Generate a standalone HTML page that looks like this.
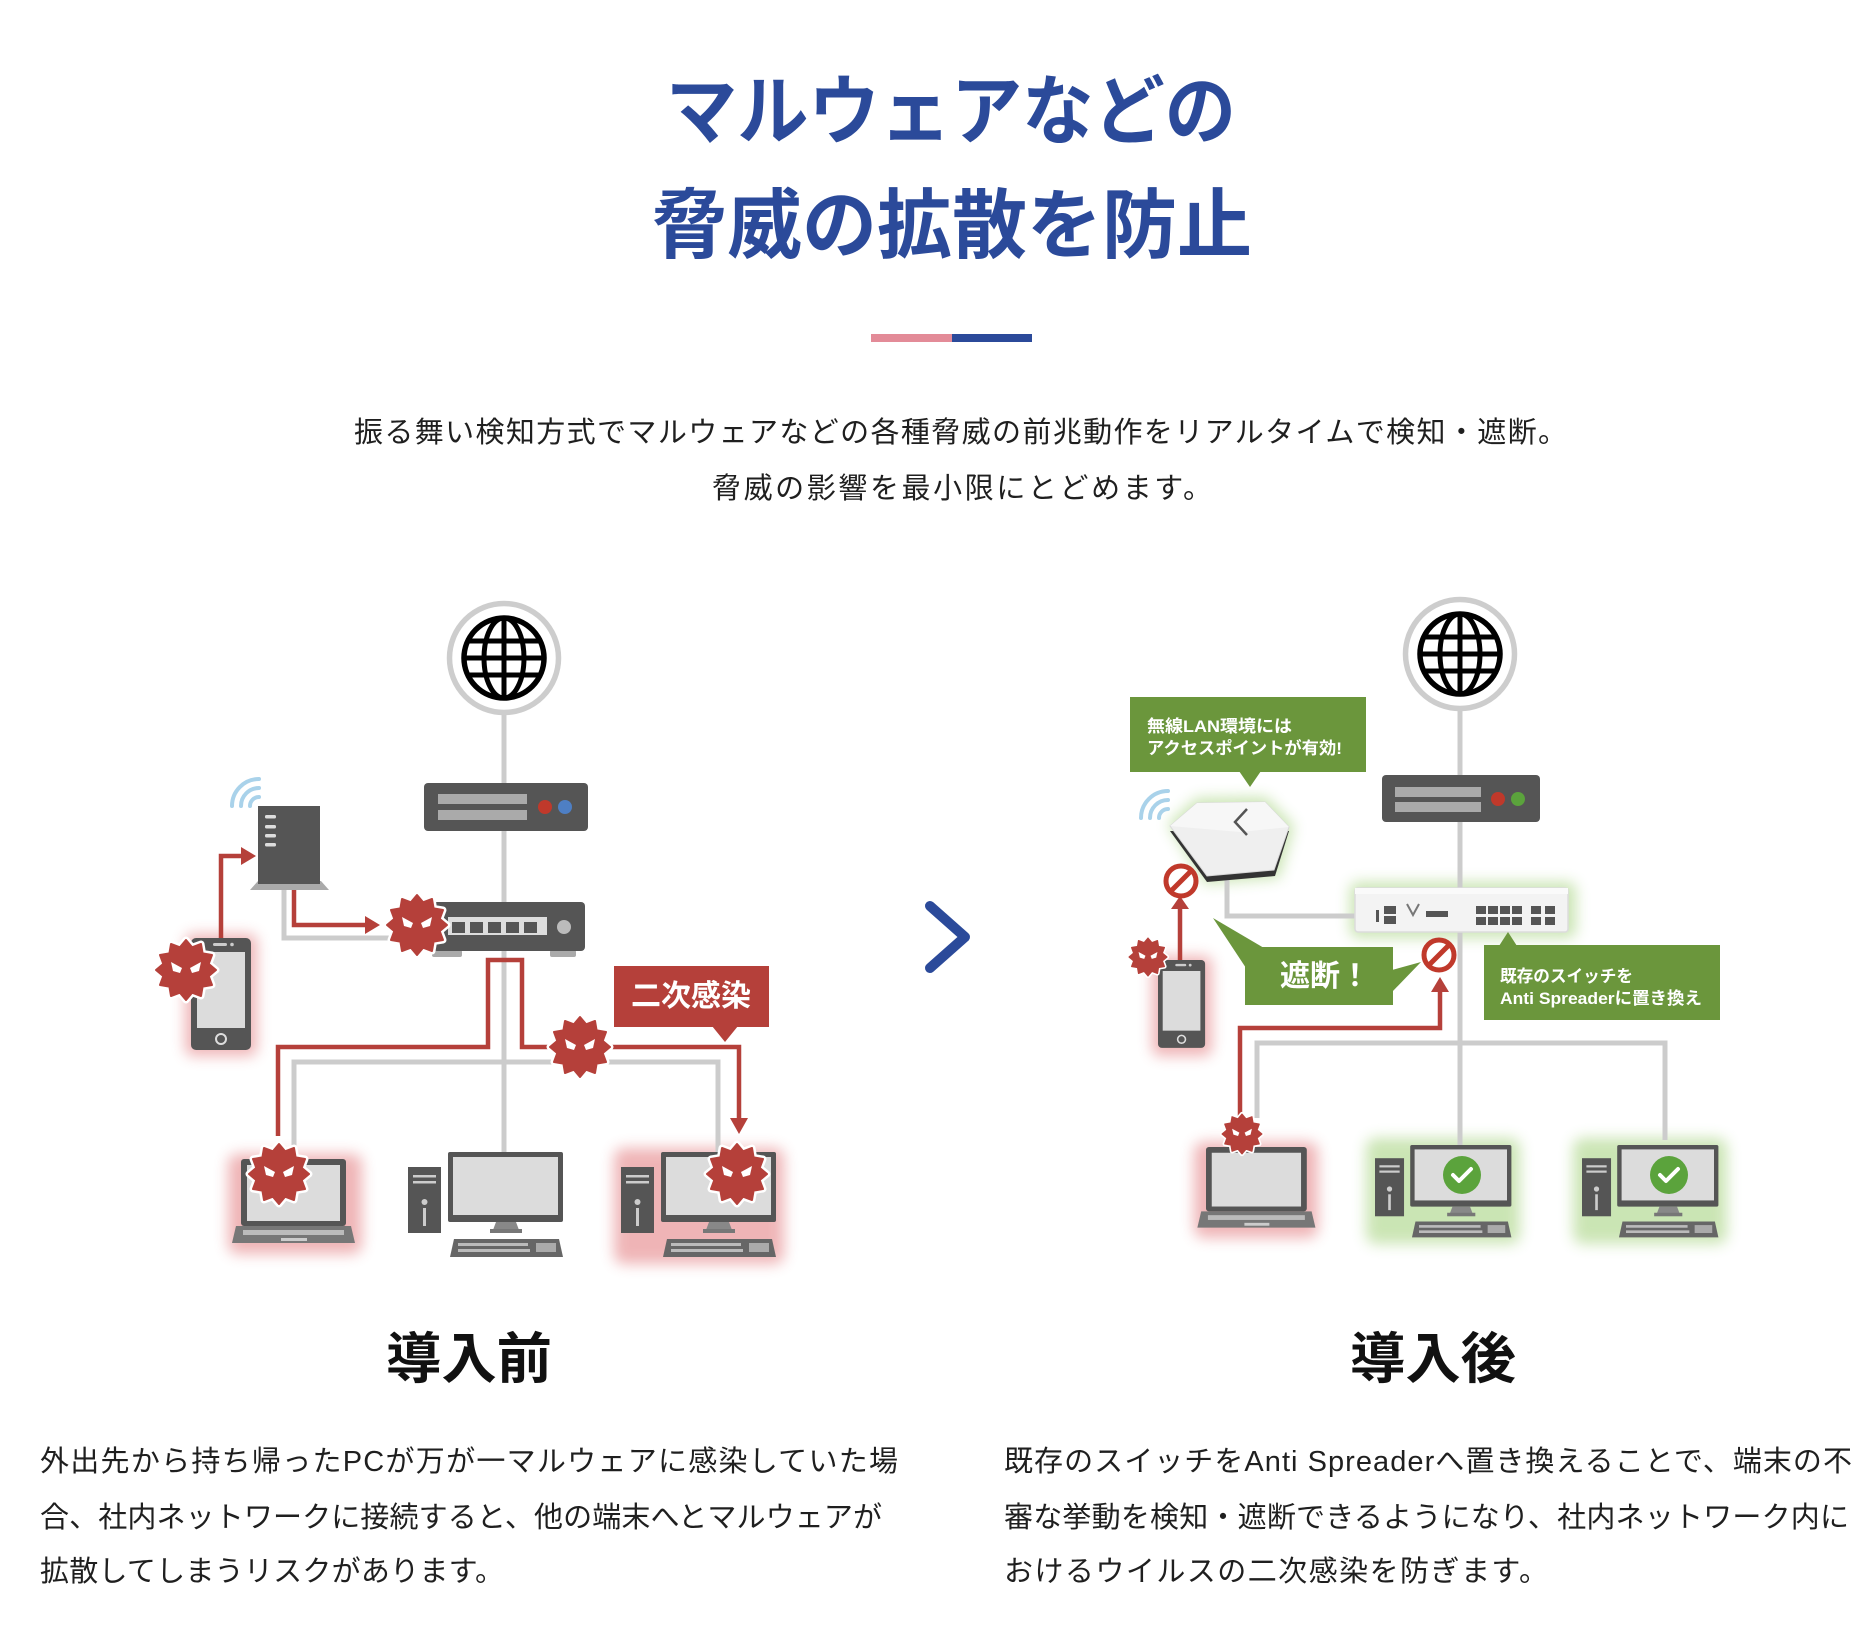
<!DOCTYPE html>
<html lang="ja">
<head>
<meta charset="utf-8">
<style>
html,body{margin:0;padding:0;background:#fff;}
svg{display:block;}
.t{font-family:"Liberation Sans","Noto Sans CJK JP",sans-serif;}
</style>
</head>
<body>
<svg width="1874" height="1634" viewBox="0 0 1874 1634" xmlns="http://www.w3.org/2000/svg">
<defs>
  <filter id="blur" x="-50%" y="-50%" width="200%" height="200%"><feGaussianBlur stdDeviation="7"/></filter>
  <g id="mal">
    <polygon points="30,0 22.7,6.1 26,15 16.6,16.6 15,26 6.1,22.7 0,30 -6.1,22.7 -15,26 -16.6,16.6 -26,15 -22.7,6.1 -30,0 -22.7,-6.1 -26,-15 -16.6,-16.6 -15,-26 -6.1,-22.7 0,-30 6.1,-22.7 15,-26 16.6,-16.6 26,-15 22.7,-6.1" fill="#fff" stroke="#fff" stroke-width="7" stroke-linejoin="round"/>
    <polygon points="30,0 22.7,6.1 26,15 16.6,16.6 15,26 6.1,22.7 0,30 -6.1,22.7 -15,26 -16.6,16.6 -26,15 -22.7,6.1 -30,0 -22.7,-6.1 -26,-15 -16.6,-16.6 -15,-26 -6.1,-22.7 0,-30 6.1,-22.7 15,-26 16.6,-16.6 26,-15 22.7,-6.1" fill="#b5403a" stroke="#b5403a" stroke-width="2" stroke-linejoin="round"/>
    <polygon points="-15,-8 -4,-2 -6,3 -13,1" fill="#fff"/>
    <polygon points="15,-8 4,-2 6,3 13,1" fill="#fff"/>
  </g>
  <g id="globe">
    <circle r="54.5" fill="#fff" stroke="#cdcdcd" stroke-width="5.5"/>
    <circle r="40" fill="#fff" stroke="#000" stroke-width="5.5"/>
    <g stroke="#000" stroke-width="5" fill="none">
      <ellipse rx="20" ry="40"/>
      <line x1="0" y1="-40" x2="0" y2="40"/>
      <line x1="-40" y1="0" x2="40" y2="0"/>
      <line x1="-36" y1="-17" x2="36" y2="-17"/>
      <line x1="-36" y1="17" x2="36" y2="17"/>
    </g>
  </g>
  <g id="desk">
    <rect x="0" y="15" width="33" height="66" fill="#555"/>
    <rect x="5" y="23" width="23" height="2.5" fill="#ccc"/>
    <rect x="5" y="29" width="23" height="2.5" fill="#ccc"/>
    <circle cx="16.5" cy="50" r="3" fill="#ccc"/>
    <rect x="15" y="56" width="3" height="18" fill="#ccc"/>
    <rect x="40" y="0" width="115" height="70" rx="2" fill="#555"/>
    <rect x="45" y="5" width="105" height="58" fill="#dcdcdc"/>
    <path d="M88 70 h20 l3 8 h-26 z" fill="#888"/>
    <rect x="82" y="77" width="32" height="4" fill="#777"/>
    <path d="M46 87 H151 L155 105 H42 Z" fill="#666"/>
    <rect x="50" y="91" width="70" height="3" fill="#bbb"/>
    <rect x="50" y="97" width="72" height="3" fill="#bbb"/>
    <rect x="128" y="91" width="20" height="9" fill="#aaa"/>
  </g>
  <g id="laptop">
    <rect x="0" y="0" width="105" height="67" rx="3" fill="#555"/>
    <rect x="6" y="6" width="93" height="56" fill="#dcdcdc"/>
    <path d="M-5 67 H110 L114 84 H-9 Z" fill="#777"/>
    <rect x="2" y="71" width="101" height="5" fill="#bbb"/>
    <rect x="40" y="79" width="26" height="3" fill="#ccc"/>
  </g>
  <g id="phone">
    <rect x="0" y="0" width="60" height="112" rx="5" fill="#555"/>
    <rect x="6" y="14" width="48" height="76" fill="#dcdcdc"/>
    <rect x="22" y="5" width="14" height="3" rx="1.5" fill="#ccc"/>
    <circle cx="41" cy="6.5" r="1.8" fill="#ccc"/>
    <circle cx="30" cy="101" r="5" fill="none" stroke="#ddd" stroke-width="2"/>
  </g>
  <g id="nosign">
    <circle r="15" fill="#fff" stroke="#c0392b" stroke-width="5"/>
    <line x1="10" y1="-10" x2="-10" y2="10" stroke="#c0392b" stroke-width="5"/>
  </g>
  <g id="check">
    <circle r="19" fill="#5ba33c"/>
    <polyline points="-9,0 -3,6 9,-6" fill="none" stroke="#fff" stroke-width="4" stroke-linecap="round" stroke-linejoin="round"/>
  </g>
</defs>

<!-- ===== TITLE ===== -->
<g class="t" font-weight="700" fill="#2b4a9a" text-anchor="middle">
  <text x="951" y="138" font-size="76" textLength="570" lengthAdjust="spacingAndGlyphs">マルウェアなどの</text>
  <text x="952" y="252" font-size="76" textLength="600" lengthAdjust="spacingAndGlyphs">脅威の拡散を防止</text>
</g>
<rect x="871" y="334" width="81" height="8" fill="#e38b98"/>
<rect x="952" y="334" width="80" height="8" fill="#2b4a9a"/>

<g class="t" fill="#1f1f1f" font-size="29">
  <text x="354" y="442" textLength="1213" lengthAdjust="spacing">振る舞い検知方式でマルウェアなどの各種脅威の前兆動作をリアルタイムで検知・遮断。</text>
  <text x="712" y="498" textLength="500" lengthAdjust="spacing">脅威の影響を最小限にとどめます。</text>
</g>

<!-- ===== LEFT DIAGRAM ===== -->
<g filter="url(#blur)" opacity="0.4" fill="#d8474b">
  <rect x="185" y="934" width="72" height="122" rx="8"/>
  <rect x="228" y="1154" width="134" height="100" rx="10"/>
  <rect x="614" y="1148" width="170" height="116" rx="10"/>
</g>
<g fill="none" stroke="#cccccc" stroke-width="5">
  <line x1="504" y1="712" x2="504" y2="1152"/>
  <path d="M284 888 V938 H436"/>
  <path d="M294 1160 V1062 H718 V1152"/>
</g>
<g fill="none" stroke="#b5403a" stroke-width="4.5">
  <path d="M221 938 V856 H243"/>
  <path d="M294 888 V925 H367"/>
  <path d="M278 1136 V1047 H488 V960 H522 V1047 H739 V1120"/>
</g>
<g fill="#b5403a">
  <polygon points="241,847 256,856 241,865"/>
  <polygon points="365,916 380,925 365,934"/>
  <polygon points="730,1118 739,1134 748,1118"/>
</g>
<use href="#globe" transform="translate(504,658)"/>
<!-- router -->
<rect x="424" y="783" width="164" height="48" rx="4" fill="#555"/>
<rect x="438" y="794" width="89" height="10" fill="#aaa"/>
<rect x="438" y="810" width="89" height="10" fill="#aaa"/>
<circle cx="545" cy="807" r="7" fill="#c0392b"/>
<circle cx="565" cy="807" r="7" fill="#4e7fc4"/>
<!-- switch -->
<rect x="432" y="950" width="30" height="7" rx="2" fill="#aaa"/>
<rect x="550" y="950" width="26" height="7" rx="2" fill="#aaa"/>
<rect x="433" y="902" width="152" height="49" rx="4" fill="#555"/>
<rect x="448" y="917" width="99" height="18" fill="#ddd"/>
<g fill="#555">
  <rect x="452" y="922" width="13" height="11"/>
  <rect x="470" y="922" width="13" height="11"/>
  <rect x="488" y="922" width="13" height="11"/>
  <rect x="506" y="922" width="13" height="11"/>
  <rect x="524" y="922" width="13" height="11"/>
</g>
<circle cx="564" cy="927" r="7" fill="#bbb"/>
<!-- AP -->
<g fill="none" stroke="#a9d2ea" stroke-width="4" stroke-linecap="round">
  <path d="M250 806 A9 9 0 0 1 259 797"/>
  <path d="M241 806 A18 18 0 0 1 259 788"/>
  <path d="M232 806 A27 27 0 0 1 259 779"/>
</g>
<polygon points="250,890 329,890 321,881 258,881" fill="#aaa"/>
<rect x="258" y="806" width="62" height="78" fill="#555"/>
<g fill="#ddd">
  <rect x="265" y="815" width="11" height="3.5" rx="1.5"/>
  <rect x="265" y="825" width="11" height="3.5" rx="1.5"/>
  <rect x="265" y="834" width="11" height="3.5" rx="1.5"/>
  <rect x="265" y="843" width="11" height="3.5" rx="1.5"/>
</g>
<use href="#phone" transform="translate(191,938)"/>
<use href="#laptop" transform="translate(241,1159)"/>
<use href="#desk" transform="translate(408,1152)"/>
<use href="#desk" transform="translate(621,1152)"/>
<!-- callout -->
<rect x="614" y="966" width="155" height="61" fill="#b5403a"/>
<polygon points="712,1026 738,1026 725,1042" fill="#b5403a"/>
<text class="t" x="691" y="1006" font-size="30" font-weight="700" fill="#fff" text-anchor="middle" textLength="120" lengthAdjust="spacingAndGlyphs">二次感染</text>
<!-- malware -->
<use href="#mal" transform="translate(417,925)"/>
<use href="#mal" transform="translate(186,970)"/>
<use href="#mal" transform="translate(580,1047)"/>
<use href="#mal" transform="translate(279,1174)"/>
<use href="#mal" transform="translate(737,1174)"/>

<!-- chevron -->
<polyline points="930,906 965,937 930,968" fill="none" stroke="#2b4a9a" stroke-width="10" stroke-linecap="round" stroke-linejoin="round"/>

<!-- ===== RIGHT DIAGRAM ===== -->
<g filter="url(#blur)" opacity="0.4" fill="#d8474b">
  <rect x="1152" y="956" width="60" height="100" rx="8"/>
  <rect x="1194" y="1142" width="124" height="96" rx="10"/>
</g>
<g filter="url(#blur)" opacity="0.45" fill="#8cc65a">
  <rect x="1366" y="1138" width="154" height="106" rx="10"/>
  <rect x="1573" y="1138" width="154" height="106" rx="10"/>
  <rect x="1350" y="882" width="226" height="56" rx="8"/>
  <polygon points="1168,824 1197,798 1266,797 1294,826 1279,878 1205,884"/>
</g>
<g fill="none" stroke="#cccccc" stroke-width="5">
  <line x1="1460" y1="708" x2="1460" y2="1145"/>
  <path d="M1227 878 V916 H1357"/>
  <path d="M1257 1118 V1043 H1665 V1140"/>
</g>
<g fill="none" stroke="#b5403a" stroke-width="4.5">
  <path d="M1180 960 V906"/>
  <path d="M1240 1120 V1028 H1440 V990"/>
</g>
<g fill="#b5403a">
  <polygon points="1171,909 1180,896 1189,909"/>
  <polygon points="1431,992 1440,977 1449,992"/>
</g>
<use href="#globe" transform="translate(1460,654)"/>
<!-- router -->
<rect x="1382" y="775" width="158" height="47" rx="4" fill="#555"/>
<rect x="1395" y="787" width="86" height="10" fill="#aaa"/>
<rect x="1395" y="802" width="86" height="10" fill="#aaa"/>
<circle cx="1498" cy="799" r="7" fill="#c0392b"/>
<circle cx="1518" cy="799" r="7" fill="#5ba33c"/>
<!-- anti spreader switch -->
<rect x="1355" y="888" width="213" height="44" rx="3" fill="#f3f3f3" stroke="#dcdcdc" stroke-width="1.5"/>
<rect x="1355" y="888" width="213" height="6" fill="#fafafa"/>
<g fill="#555">
  <rect x="1384" y="906" width="12" height="8"/>
  <rect x="1384" y="916" width="12" height="8"/>
  <rect x="1476" y="906" width="10" height="8"/>
  <rect x="1488" y="906" width="10" height="8"/>
  <rect x="1500" y="906" width="10" height="8"/>
  <rect x="1512" y="906" width="10" height="8"/>
  <rect x="1476" y="917" width="10" height="8"/>
  <rect x="1488" y="917" width="10" height="8"/>
  <rect x="1500" y="917" width="10" height="8"/>
  <rect x="1512" y="917" width="10" height="8"/>
  <rect x="1531" y="906" width="10" height="8"/>
  <rect x="1531" y="917" width="10" height="8"/>
  <rect x="1545" y="906" width="10" height="8"/>
  <rect x="1545" y="917" width="10" height="8"/>
  <rect x="1426" y="911" width="22" height="6"/>
  <rect x="1376" y="910" width="3" height="12"/>
</g>
<polyline points="1407,904 1413,915 1419,904" fill="none" stroke="#777" stroke-width="2"/>
<!-- AP -->
<g fill="none" stroke="#a9d2ea" stroke-width="4" stroke-linecap="round">
  <path d="M1159 818 A9 9 0 0 1 1168 809"/>
  <path d="M1150 818 A18 18 0 0 1 1168 800"/>
  <path d="M1141 818 A27 27 0 0 1 1168 791"/>
</g>
<polygon points="1170,831 1207,882 1275,876 1289,831" fill="#333"/>
<polygon points="1170,826 1197,803 1265,802 1289,827 1274,870 1207,876" fill="#efefef" stroke="#d8d8d8" stroke-width="1"/>
<polygon points="1170,826 1197,803 1265,802 1289,827 1240,832" fill="#f7f7f7"/>
<polyline points="1247,809 1235,822 1247,835" fill="none" stroke="#555" stroke-width="2.5"/>
<use href="#phone" transform="translate(1158,960) scale(0.785)"/>
<use href="#laptop" transform="translate(1206,1147) scale(0.96)"/>
<use href="#desk" transform="translate(1375,1145) scale(0.88)"/>
<use href="#desk" transform="translate(1582,1145) scale(0.88)"/>
<use href="#check" transform="translate(1462,1175)"/>
<use href="#check" transform="translate(1669,1175)"/>
<use href="#nosign" transform="translate(1181,881)"/>
<use href="#nosign" transform="translate(1439,955)"/>
<use href="#mal" transform="translate(1148,957) scale(0.63)"/>
<use href="#mal" transform="translate(1242,1134) scale(0.66)"/>
<!-- green callouts -->
<g fill="#6b963c">
  <rect x="1130" y="697" width="236" height="75"/>
  <polygon points="1239,771 1261,771 1250,787"/>
  <rect x="1245" y="947" width="148" height="58"/>
  <polygon points="1213,918 1264,948 1246,968"/>
  <polygon points="1392,970 1421,962 1392,992"/>
  <rect x="1484" y="945" width="236" height="75"/>
  <polygon points="1499,946 1508,932 1517,946"/>
</g>
<g class="t" fill="#fff" font-weight="700">
  <text x="1147" y="732" font-size="17" textLength="145" lengthAdjust="spacingAndGlyphs">無線LAN環境には</text>
  <text x="1147" y="754" font-size="17" textLength="195" lengthAdjust="spacingAndGlyphs">アクセスポイントが有効!</text>
  <text x="1280" y="986" font-size="30" textLength="90" lengthAdjust="spacingAndGlyphs">遮断！</text>
  <text x="1500" y="982" font-size="17" textLength="133" lengthAdjust="spacingAndGlyphs">既存のスイッチを</text>
  <text x="1500" y="1004" font-size="17" textLength="202" lengthAdjust="spacingAndGlyphs">Anti Spreaderに置き換え</text>
</g>

<!-- ===== BOTTOM TEXT ===== -->
<g class="t" font-weight="700" fill="#111" font-size="55" text-anchor="middle">
  <text x="469" y="1378" textLength="166" lengthAdjust="spacingAndGlyphs">導入前</text>
  <text x="1433" y="1378" textLength="166" lengthAdjust="spacingAndGlyphs">導入後</text>
</g>
<g class="t" fill="#1f1f1f" font-size="29">
  <text x="40" y="1471" textLength="858" lengthAdjust="spacing">外出先から持ち帰ったPCが万が一マルウェアに感染していた場</text>
  <text x="40" y="1527" textLength="842" lengthAdjust="spacing">合、社内ネットワークに接続すると、他の端末へとマルウェアが</text>
  <text x="40" y="1581" textLength="464" lengthAdjust="spacing">拡散してしまうリスクがあります。</text>
  <text x="1004" y="1471" textLength="848" lengthAdjust="spacing">既存のスイッチをAnti Spreaderへ置き換えることで、端末の不</text>
  <text x="1004" y="1527" textLength="845" lengthAdjust="spacing">審な挙動を検知・遮断できるようになり、社内ネットワーク内に</text>
  <text x="1004" y="1581" textLength="544" lengthAdjust="spacing">おけるウイルスの二次感染を防ぎます。</text>
</g>
</svg>
</body>
</html>
